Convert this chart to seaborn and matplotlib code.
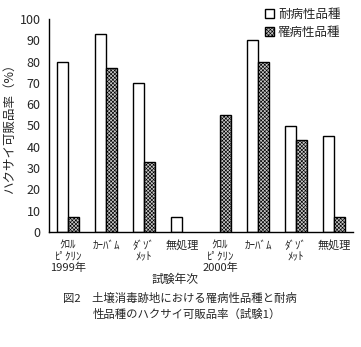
import matplotlib
matplotlib.use("Agg")
import matplotlib.pyplot as plt
import seaborn as sns
import pandas as pd

# 試験区（年次・処理）
groups = ["ｸﾛﾙ\nﾋﾟｸﾘﾝ\n1999年", "ｶｰﾊﾞﾑ", "ﾀﾞｿﾞ\nﾒｯﾄ", "無処理",
          "ｸﾛﾙ\nﾋﾟｸﾘﾝ\n2000年", "ｶｰﾊﾞﾑ", "ﾀﾞｿﾞ\nﾒｯﾄ", "無処理"]
resistant = [80, 93, 70, 7, 0, 90, 50, 45]     # 耐病性品種 (%)
susceptible = [7, 77, 33, 0, 55, 80, 43, 7]   # 罹病性品種 (%)
yticks = list(range(0, 101, 10))

sns.set_theme(style="white")
plt.rcParams["font.family"] = ["Noto Sans CJK JP", "DejaVu Sans"]
plt.rcParams["hatch.linewidth"] = 0.45
plt.rcParams["hatch.color"] = "#202020"

HATCH = "xxxxxxxxx"
MESH = "#c8c8c8"

keys = [f"g{i}" for i in range(len(groups))]
df = pd.DataFrame({
    "key": keys * 2,
    "variety": ["耐病性品種"] * len(keys) + ["罹病性品種"] * len(keys),
    "rate": resistant + susceptible,
})

fig = plt.figure(figsize=(3.61, 3.47), dpi=100)
ax = fig.add_axes([49 / 361, 1 - 232 / 347, 304 / 361, 213 / 347])

sns.barplot(data=df, x="key", y="rate", hue="variety", order=keys,
            hue_order=["耐病性品種", "罹病性品種"],
            palette=["white", MESH], width=0.58, ax=ax,
            edgecolor="black", linewidth=1.0, saturation=1)

n = len(keys)
for i, patch in enumerate(ax.patches[:2 * n]):
    if i >= n:
        patch.set_hatch(HATCH)
    if patch.get_height() == 0:
        patch.set_visible(False)

ax.set_xlim(-0.5, n - 0.5)
ax.set_ylim(0, 100)
ax.set_yticks(yticks)
ax.set_yticklabels([str(v) for v in yticks], fontsize=9)
ax.set_xticks(range(n))
ax.set_xticklabels(groups, fontsize=8, linespacing=1.15)
ax.tick_params(axis="y", direction="out", length=4, width=1, color="black", pad=2)
ax.tick_params(axis="x", length=0, pad=6)
for s in ["top", "right"]:
    ax.spines[s].set_visible(False)
for s in ["left", "bottom"]:
    ax.spines[s].set_color("black")
    ax.spines[s].set_linewidth(1)

ax.set_xlabel("")
ax.set_ylabel("ハクサイ可販品率（%）", fontsize=9, labelpad=3)
fig.text(175 / 361, 1 - 279 / 347, "試験年次", fontsize=8.5, ha="center", va="center")

leg = ax.legend(loc="upper right", bbox_to_anchor=(0.975, 1.075), frameon=False,
                fontsize=9, handlelength=0.7, handleheight=0.7,
                handletextpad=0.3, labelspacing=0.4, borderaxespad=0)
for h in leg.legend_handles:
    h.set_edgecolor("black")
    h.set_linewidth(1.0)
leg.legend_handles[1].set_hatch(HATCH)

fig.text(63 / 361, 1 - 298 / 347, "図2　土壌消毒跡地における罹病性品種と耐病",
         fontsize=8.2, va="center", ha="left")
fig.text(93 / 361, 1 - 314 / 347, "性品種のハクサイ可販品率（試験1）",
         fontsize=8.2, va="center", ha="left")

fig.savefig("out.png", dpi=100, facecolor="white")
